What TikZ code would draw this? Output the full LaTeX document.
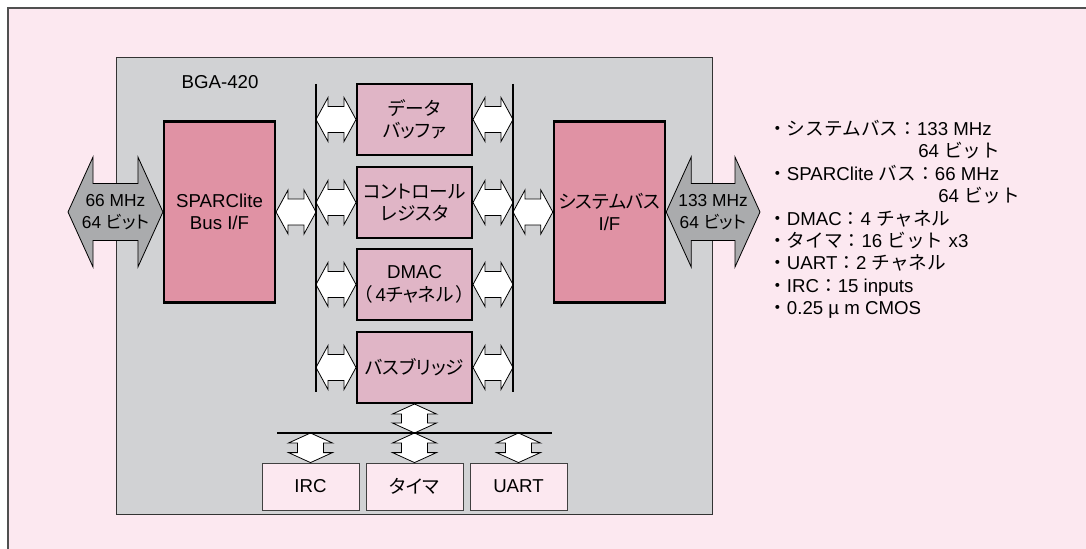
\documentclass[tikz,border=0pt]{standalone}
\usepackage{fontspec}
\setmainfont{Liberation Sans}
\newfontfamily\jafont{Noto Sans CJK JP}
\newfontfamily\japfont{Noto Sans CJK JP}[RawFeature=+palt]
\newcommand\ja[1]{{\jafont #1}}
\newcommand\jap[1]{{\japfont #1}}
\usepackage{xcolor}
\usepackage{tikz}
\usetikzlibrary{calc, positioning}

\definecolor{bgpink}{HTML}{FCE8F0}
\definecolor{chipgray}{HTML}{D1D2D4}
\definecolor{ifrose}{HTML}{E092A4}
\definecolor{blkpink}{HTML}{E0B5C6}
\definecolor{arrgray}{HTML}{AAABAD}
\definecolor{framegray}{HTML}{505050}

\tikzset{
  hfat/.style n args={3}{to path={let \p1=(\tikztostart), \p2=(\tikztotarget) in
    (\x1,\y1) -- (\x1+#1,\y1+#2) -- (\x1+#1,\y1+#3) -- (\x2-#1,\y1+#3) -- (\x2-#1,\y1+#2) -- (\x2,\y1)
    -- (\x2-#1,\y1-#2) -- (\x2-#1,\y1-#3) -- (\x1+#1,\y1-#3) -- (\x1+#1,\y1-#2) -- cycle}},
  vfat/.style n args={3}{to path={let \p1=(\tikztostart), \p2=(\tikztotarget) in
    (\x1,\y1) -- (\x1+#2,\y1-#1) -- (\x1+#3,\y1-#1) -- (\x1+#3,\y2+#1) -- (\x1+#2,\y2+#1) -- (\x1,\y2)
    -- (\x1-#2,\y2+#1) -- (\x1-#3,\y2+#1) -- (\x1-#3,\y1-#1) -- (\x1-#2,\y1-#1) -- cycle}},
}

\begin{document}
\begin{tikzpicture}[x=0.75pt, y=-0.75pt, font=\fontsize{14}{16.8}\selectfont,
    ifbox/.style={draw, line width=1.6pt, fill=ifrose, minimum width=83.25pt, minimum height=135.75pt, align=center},
    midbox/.style={draw, line width=1.5pt, fill=blkpink, minimum width=86.25pt, minimum height=53.25pt, inner sep=1pt, align=center},
    iobox/.style={draw=black!75, line width=0.6pt, fill=bgpink, minimum width=72.75pt, minimum height=35.25pt},
    warrow/.style={draw, fill=white, line width=0.6pt, hfat={9pt}{16.5pt}{9.75pt}},
    garrow/.style={draw, fill=arrgray, line width=0.6pt, hfat={18.75pt}{41.25pt}{21.4pt}},
    varrow/.style={draw, fill=white, line width=0.6pt, vfat={7.5pt}{16.5pt}{9.75pt}},
    bus/.style={line width=1.5pt},
    arrtext/.style={align=center, font=\fontsize{13}{16.5}\selectfont},
    listline/.style={anchor=base west, inner sep=0pt}]
    \useasboundingbox (0,0) rectangle (1086,549);
    \fill[white] (0,0) rectangle (1086,549);
    \fill[bgpink] (8,8) rectangle (1086,549);
    \draw[framegray, line width=1.1pt] (8,549) -- (8,8) -- (1086,8);

    \node (chip) [draw=black!80, line width=0.6pt, fill=chipgray, anchor=north west, minimum width=447pt, minimum height=342.75pt] at (116,57) {};
    \node (pkg) at (220,82) {BGA-420};

    \node (sparc) [ifbox] at (219.5,212) {SPARClite\\Bus I/F};
    \node (sysif) [ifbox] at (609.5,212) {\jap{システムバス}\\I/F};

    \node (dbuf) [midbox] at (414.5,119.5) {\jap{データ}\\\jap{バッファ}};
    \node (creg) [midbox] at (414.5,202.5) {\jap{コントロール}\\\jap{レジスタ}};
    \node (dmac) [midbox] at (414.5,284.5) {DMAC\\\jap{（}\,4\jap{チャネル}\,\jap{）}};
    \node (brdg) [midbox] at (414.5,367.5) {\jap{バスブリッジ}};

    \node (irc) [iobox] at (310.5,486.5) {IRC};
    \node (tmr) [iobox] at (414.5,486.5) {\jap{タイマ}};
    \node (uart) [iobox] at (518.5,486.5) {UART};

    \coordinate (lbusT) at (316,84);
    \coordinate (lbusB) at (316,392);
    \coordinate (rbusT) at (513,84);
    \coordinate (rbusB) at (513,392);
    \coordinate (bbusL) at (277,433);
    \coordinate (bbusR) at (552,433);
    \coordinate (lend) at (68,212);
    \coordinate (rend) at (760,212);

    \draw [garrow] (lend) to (sparc.west);
    \draw [garrow] (sysif.east) to (rend);
    \node (lbw) [arrtext] at ($(lend)!0.5!(sparc.west)$) {66 MHz\\64 \jap{ビット}};
    \node (rbw) [arrtext] at ($(sysif.east)!0.5!(rend)$) {133 MHz\\64 \jap{ビット}};

    \draw [warrow] (sparc.east) to (sparc.east -| lbusT);
    \draw [warrow] (rbusT |- sysif.west) to (sysif.west);
    \foreach \b in {dbuf, creg, dmac, brdg} {
        \draw [warrow] (lbusT |- \b.west) to (\b.west);
        \draw [warrow] (\b.east) to (rbusT |- \b.east);
    }

    \draw [varrow] (brdg.south) to (brdg.south |- bbusL);
    \draw [varrow] (irc.north |- bbusL) to (irc.north);
    \draw [varrow] (tmr.north |- bbusL) to (tmr.north);
    \draw [varrow] (uart.north |- bbusL) to (uart.north);

    \draw [bus] (lbusT) -- (lbusB);
    \draw [bus] (rbusT) -- (rbusB);
    \draw [bus] (bbusL) -- (bbusR);

    \node (i1) [listline] at (768,135.5) {\ja{・システムバス：}133 MHz};
    \node (i2) [listline] at (918,157.9) {64 \ja{ビット}};
    \node (i3) [listline] at (768,180.3) {\ja{・}SPARClite \ja{バス：}66 MHz};
    \node (i4) [listline] at (938,202.7) {64 \ja{ビット}};
    \node (i5) [listline] at (768,225.1) {\ja{・}DMAC\ja{：}4 \ja{チャネル}};
    \node (i6) [listline] at (768,247.5) {\ja{・タイマ：}16 \ja{ビット} x3};
    \node (i7) [listline] at (768,269.9) {\ja{・}UART\ja{：}2 \ja{チャネル}};
    \node (i8) [listline] at (768,292.3) {\ja{・}IRC\ja{：}15 inputs};
    \node (i9) [listline] at (768,314.7) {\ja{・}0.25 µ m CMOS};
\end{tikzpicture}
\end{document}
